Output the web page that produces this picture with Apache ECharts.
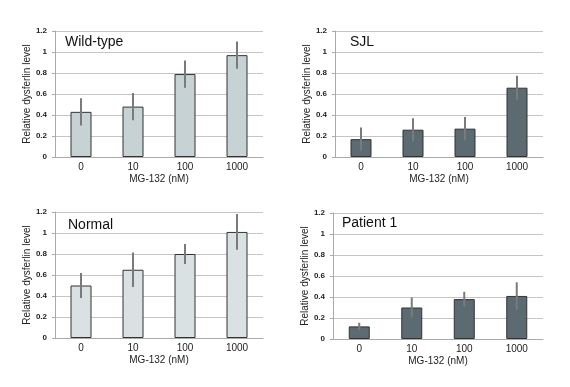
<!DOCTYPE html>
<html>
<head>
<meta charset="utf-8">
<script src="https://cdn.jsdelivr.net/npm/echarts@6/dist/echarts.min.js"></script>
<style>
  html, body { margin: 0; padding: 0; background: #fff; }
  #chart { width: 570px; height: 387px; }
</style>
</head>
<body>
<div id="chart"></div>
<script>
const doses = ['0', '10', '100', '1000'];
const yTicks = [0, 0.2, 0.4, 0.6, 0.8, 1, 1.2];

const wildType = [0.43, 0.48, 0.79, 0.97];
const wildTypeErr = [0.13, 0.13, 0.13, 0.13];
const sjl = [0.17, 0.26, 0.27, 0.66];
const sjlErr = [0.11, 0.11, 0.11, 0.115];
const normal = [0.50, 0.65, 0.80, 1.01];
const normalErr = [0.12, 0.165, 0.095, 0.17];
const patient1 = [0.12, 0.30, 0.38, 0.41];
const patient1Err = [0.035, 0.095, 0.07, 0.13];

const panels = [
  { name: 'Wild-type', values: wildType, err: wildTypeErr, color: '#c6d2d3',
    grid: { left: 55, right: 307, top: 31, bottom: 230 }, label: { left: 65, top: 35 } },
  { name: 'SJL', values: sjl, err: sjlErr, color: '#5b6b71',
    grid: { left: 335, right: 27, top: 31, bottom: 230 }, label: { left: 350, top: 35 } },
  { name: 'Normal', values: normal, err: normalErr, color: '#d9e1e3',
    grid: { left: 55, right: 307, top: 212, bottom: 49 }, label: { left: 68, top: 218 } },
  { name: 'Patient 1', values: patient1, err: patient1Err, color: '#5b6b71',
    grid: { left: 333, right: 27, top: 213, bottom: 48 }, label: { left: 342, top: 216 } }
];

const chart = echarts.init(document.getElementById('chart'));

const font = 'Liberation Sans, Arial, sans-serif';

const option = {
  backgroundColor: '#fff',
  animation: false,
  title: panels.map(p => ({
    text: p.name,
    left: p.label.left,
    top: p.label.top,
    padding: 0,
    textStyle: { fontFamily: font, fontSize: 14, fontWeight: 'normal', color: '#111' }
  })),
  grid: panels.map(p => p.grid),
  xAxis: panels.map((p, i) => ({
    type: 'category',
    gridIndex: i,
    data: doses,
    name: 'MG-132 (nM)',
    nameLocation: 'middle',
    nameGap: 17,
    nameTextStyle: { fontFamily: font, fontSize: 10, color: '#222' },
    axisLine: { lineStyle: { color: '#aaa' } },
    axisTick: { show: false },
    axisLabel: { fontFamily: font, fontSize: 10, color: '#222', margin: 5 }
  })),
  yAxis: panels.map((p, i) => ({
    type: 'value',
    gridIndex: i,
    min: yTicks[0],
    max: yTicks[yTicks.length - 1],
    interval: 0.2,
    name: 'Relative dysferlin level',
    nameLocation: 'middle',
    nameGap: 23,
    nameTextStyle: { fontFamily: font, fontSize: 10, color: '#222' },
    axisLine: { show: true, lineStyle: { color: '#aaa' } },
    axisTick: { show: true, length: 3, lineStyle: { color: '#aaa' } },
    splitLine: { lineStyle: { color: '#c4c4c4' } },
    axisLabel: {
      fontFamily: font, fontSize: 8, fontWeight: 'bold', color: '#222', margin: 8,
      formatter: v => String(Math.round(v * 10) / 10)
    }
  })),
  series: []
};

panels.forEach((p, i) => {
  option.series.push({
    type: 'bar',
    xAxisIndex: i,
    yAxisIndex: i,
    data: p.values,
    barWidth: 21,
    itemStyle: { color: p.color, borderColor: '#333', borderWidth: 1 }
  });
  option.series.push({
    type: 'custom',
    xAxisIndex: i,
    yAxisIndex: i,
    z: 5,
    data: p.values.map((v, k) => [k, v - p.err[k], v + p.err[k]]),
    renderItem: (params, api) => {
      const lo = api.coord([api.value(0), api.value(1)]);
      const hi = api.coord([api.value(0), api.value(2)]);
      return {
        type: 'line',
        shape: { x1: lo[0], y1: lo[1], x2: hi[0], y2: hi[1] },
        style: { stroke: '#7a7a7a', lineWidth: 2 }
      };
    }
  });
});

chart.setOption(option);
</script>
</body>
</html>
